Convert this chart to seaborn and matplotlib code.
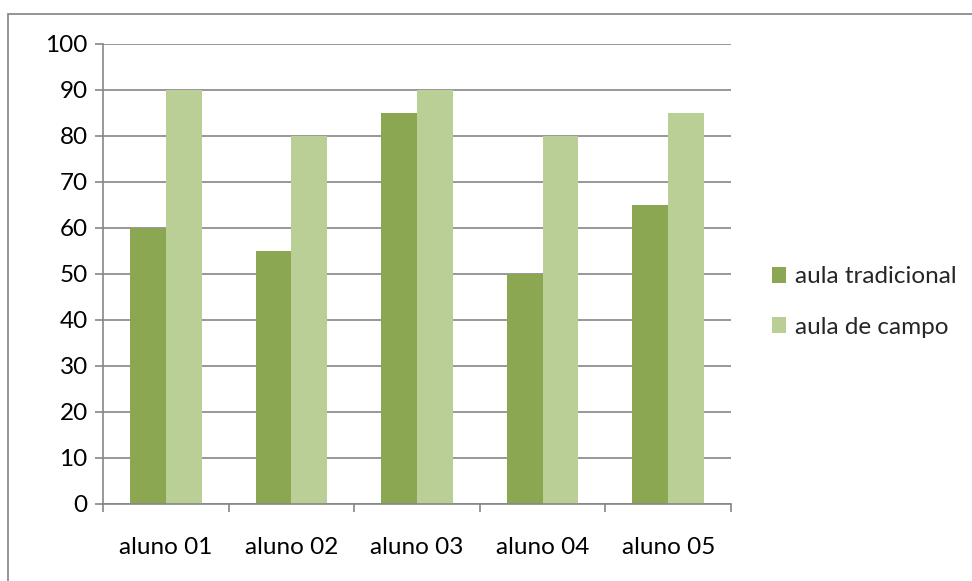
import matplotlib
matplotlib.use("Agg")
import matplotlib.pyplot as plt
import seaborn as sns
import pandas as pd
from matplotlib.patches import Rectangle, Patch

categories = ["aluno 01", "aluno 02", "aluno 03", "aluno 04", "aluno 05"]
series_names = ["aula tradicional", "aula de campo"]
tradicional = [60, 55, 85, 50, 65]
campo = [90, 80, 90, 80, 85]
yticks = [0, 10, 20, 30, 40, 50, 60, 70, 80, 90, 100]
colors = ["#8BA752", "#BACF96"]

df = pd.DataFrame({
    "aluno": categories * 2,
    "serie": [series_names[0]] * 5 + [series_names[1]] * 5,
    "valor": tradicional + campo,
})

sns.set_theme(style="white")
plt.rcParams["font.family"] = ["Lato", "DejaVu Sans"]
FS = 17.5

fig = plt.figure(figsize=(9.72, 5.81), dpi=100)
ax = fig.add_axes([103/972, 1-504/581, (731-103)/972, (504-44)/581])

sns.barplot(data=df, x="aluno", y="valor", hue="serie", palette=colors,
            width=0.5714, saturation=1, ax=ax, legend=False, linewidth=0)

grid_c = "#868686"
ax.set_ylim(0, 100)
ax.set_xlim(-0.5, 4.5)
ax.set_yticks(yticks)
ax.set_yticklabels([str(v) for v in yticks], fontsize=FS, color="black")
ax.set_axisbelow(True)
ax.yaxis.grid(True, color=grid_c, linewidth=1.2)
ax.xaxis.grid(False)
for s in ["top", "right"]:
    ax.spines[s].set_visible(False)
for s in ["left", "bottom"]:
    ax.spines[s].set_color(grid_c)
    ax.spines[s].set_linewidth(1.2)
ax.tick_params(axis="y", which="major", direction="out", length=6, width=1.2,
               color=grid_c, left=True, pad=5)
ax.set_xticks(range(5))
ax.set_xticklabels(categories, fontsize=FS, color="black")
ax.tick_params(axis="x", which="major", length=0, pad=24)
ax.set_xticks([i - 0.5 for i in range(6)], minor=True)
ax.tick_params(axis="x", which="minor", direction="out", length=6, width=1.2,
               color=grid_c, bottom=True)
ax.set_xlabel("")
ax.set_ylabel("")

handles = [Patch(facecolor=c, edgecolor="none") for c in colors]
fig.legend(handles, series_names, loc="center left",
           bbox_to_anchor=(750/972, 1-302/581), frameon=False,
           fontsize=FS, handlelength=0.6, handleheight=0.6,
           handletextpad=0.35, labelspacing=1.2)

fig.patches.append(Rectangle((8/972, -0.1), 1.2, 1.1 - 14/581,
                             transform=fig.transFigure, fill=False,
                             edgecolor="#8C8C8C", linewidth=1.3))

fig.savefig("out.png", dpi=100)
